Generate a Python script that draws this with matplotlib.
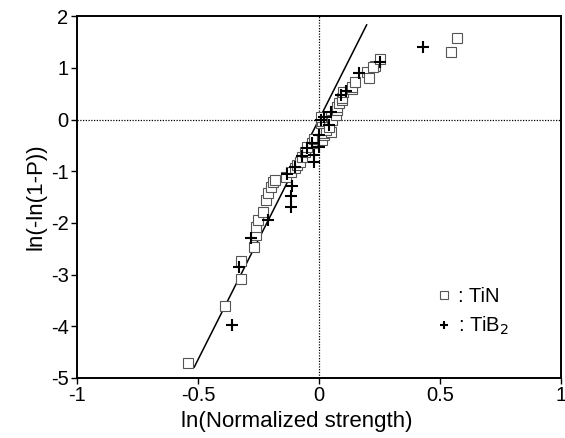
import matplotlib
matplotlib.use('Agg')
import matplotlib.pyplot as plt
import numpy as np

plt.rcParams['font.family'] = ['Liberation Sans', 'DejaVu Sans']

# TiN (open squares)
tin_x = [-0.54, -0.39, -0.32, -0.32, -0.27, -0.26, -0.26, -0.25, -0.23, -0.22,
         -0.21, -0.20, -0.19, -0.18, -0.135, -0.115, -0.10, -0.09, -0.08, -0.07,
         -0.057, -0.05, -0.03, -0.02, 0.012, 0.02, 0.02, 0.041, 0.049, 0.03,
         0.01, 0.014, 0.04, 0.055, 0.008, 0.07, 0.075, 0.074, 0.082, 0.094,
         0.095, 0.10, 0.135, 0.135, 0.148, 0.197, 0.205, 0.233, 0.225, 0.254,
         0.545, 0.57]
tin_y = [-4.71, -3.61, -3.09, -2.74, -2.47, -2.24, -2.08, -1.95, -1.79, -1.56,
         -1.42, -1.31, -1.21, -1.17, -1.11, -1.02, -0.94, -0.88, -0.82, -0.72,
         -0.63, -0.53, -0.46, -0.38, -0.40, -0.30, -0.26, -0.17, -0.24, -0.20,
         -0.07, -0.02, -0.15, -0.01, 0.05, 0.09, 0.18, 0.24, 0.32, 0.38,
         0.41, 0.53, 0.60, 0.63, 0.72, 0.92, 0.80, 1.03, 1.01, 1.17,
         1.30, 1.57]

# TiB2 (plus signs)
tib2_x = [-0.36, -0.33, -0.28, -0.21, -0.115, -0.115, -0.11, -0.13, -0.10, -0.07,
          -0.05, -0.03, -0.02, -0.02, 0.0, 0.0, 0.008, 0.02, 0.05, 0.09,
          0.11, 0.164, 0.254, 0.43, 0.04]
tib2_y = [-3.98, -2.85, -2.29, -1.95, -1.69, -1.48, -1.29, -1.05, -0.92, -0.70,
          -0.55, -0.45, -0.82, -0.69, -0.53, -0.30, -0.01, 0.05, 0.15, 0.47,
          0.56, 0.90, 1.11, 1.40, -0.10]

# Weibull fit line
fit_x = [-0.515, 0.197]
fit_slope = 9.3

fig = plt.figure(figsize=(5.65, 4.38), dpi=100)
ax = fig.add_axes([0.136, 0.137, 0.857, 0.826])

ax.axhline(0, color='black', lw=0.9, ls=(0, (1, 1.2)), zorder=1)
ax.axvline(0, color='black', lw=0.9, ls=(0, (1, 1.2)), zorder=1)

fx = np.array(fit_x)
ax.plot(fx, fit_slope * fx, color='black', lw=1.1, zorder=2)

ax.plot(tin_x, tin_y, ls='none', marker='s', ms=7.5, mfc='white', mec='#555555',
        mew=0.8, label=': TiN', zorder=3)
ax.plot(tib2_x, tib2_y, ls='none', marker='+', ms=8, mec='black', mew=1.5,
        label=': TiB$_2$', zorder=4)

ax.set_xlim(-1, 1)
ax.set_ylim(-5, 2)
ax.set_xticks([-1, -0.5, 0, 0.5, 1])
ax.set_xticklabels(['-1', '-0.5', '0', '0.5', '1'])
ax.set_yticks(range(-5, 3))
ax.set_yticklabels([str(v) for v in range(-5, 3)])
ax.tick_params(direction='out', length=4, width=1, labelsize=14.5, pad=2)
for s in ax.spines.values():
    s.set_linewidth(1.4)

ax.set_xlabel('ln(Normalized strength)', fontsize=16)
ax.xaxis.set_label_coords(0.454, -0.09)
ax.set_ylabel('ln(-ln(1-P))', fontsize=16, labelpad=3)

leg = ax.legend(loc='lower left', bbox_to_anchor=(0.72, 0.085), frameon=False,
                fontsize=14.5, handlelength=0.8, handletextpad=0.3,
                labelspacing=0.45, markerscale=0.8, borderpad=0)

fig.savefig('out.png', dpi=100)
